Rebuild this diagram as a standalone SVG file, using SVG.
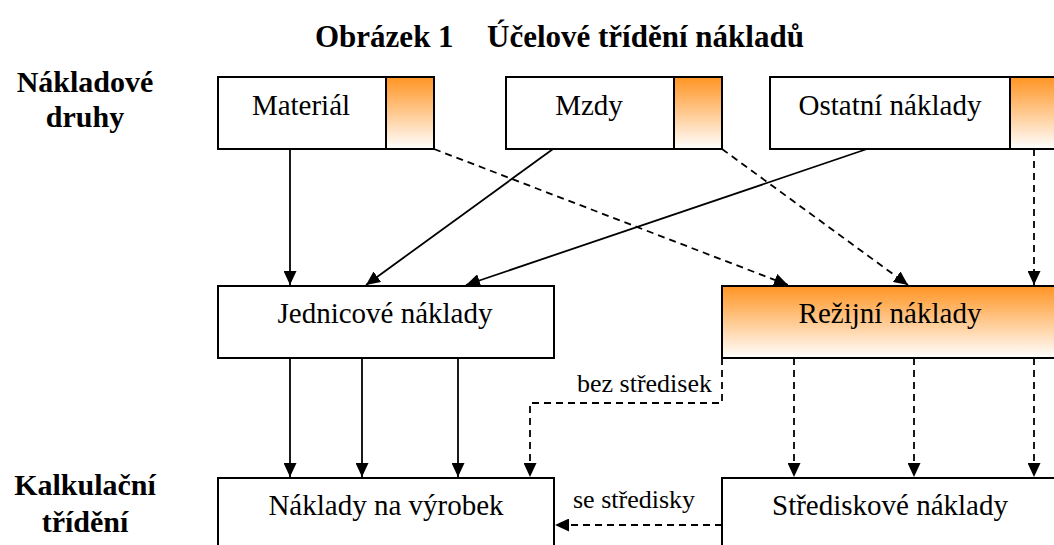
<svg xmlns="http://www.w3.org/2000/svg" width="1054" height="545" viewBox="0 0 1054 545" font-family="'Liberation Serif', 'DejaVu Serif', serif">
<defs>
<linearGradient id="og" x1="0" y1="0" x2="0" y2="1">
<stop offset="0" stop-color="#FF9422"/>
<stop offset="1" stop-color="#FFFFFF"/>
</linearGradient>
<marker id="ah" viewBox="0 0 14 13" refX="14" refY="6.5" markerWidth="14" markerHeight="13" markerUnits="userSpaceOnUse" orient="auto">
<path d="M0,0 L14,6.5 L0,13 Z" fill="#000"/>
</marker>
<style>
text{fill:#000}
.box{fill:#fff;stroke:#000;stroke-width:2}
.grad{fill:url(#og);stroke:#000;stroke-width:2}
.t{font-size:29px;text-anchor:middle}
.s{font-size:26px}
.h{font-size:30px;font-weight:bold;text-anchor:middle}
.ti{font-size:31px;font-weight:bold}
.c{fill:none;stroke:#000;stroke-width:1.8}
.d{stroke-dasharray:7,5}
</style>
</defs>
<rect width="1054" height="545" fill="#fff"/>
<g id="title"><text x="315" y="47" class="ti">Obrázek 1</text><text x="487" y="47" class="ti">Účelové třídění nákladů</text></g>
<g id="lbl-druhy"><text x="85" y="92" class="h">Nákladové</text><text x="85" y="127" class="h">druhy</text></g>
<g id="lbl-kalk"><text x="85" y="495" class="h">Kalkulační</text><text x="85" y="532" class="h">třídění</text></g>
<g id="material"><rect x="218" y="77" width="168" height="72" class="box"/><rect x="386" y="77" width="48" height="72" class="grad"/><text x="301" y="115" class="t">Materiál</text></g>
<g id="mzdy"><rect x="506" y="77" width="168" height="72" class="box"/><rect x="674" y="77" width="48" height="72" class="grad"/><text x="589" y="115" class="t">Mzdy</text></g>
<g id="ostatni"><rect x="770" y="77" width="240" height="72" class="box"/><rect x="1010" y="77" width="48" height="72" class="grad"/><text x="890" y="115" class="t">Ostatní náklady</text></g>
<g id="jednicove"><rect x="218" y="286" width="336" height="72" class="box"/><text x="385" y="323" class="t">Jednicové náklady</text></g>
<g id="rezijni"><rect x="722" y="286" width="340" height="72" class="grad"/><text x="890" y="323" class="t">Režijní náklady</text></g>
<g id="vyrobek"><rect x="218" y="478" width="336" height="80" class="box"/><text x="386" y="515" class="t">Náklady na výrobek</text></g>
<g id="strediskove"><rect x="722" y="478" width="340" height="80" class="box"/><text x="890" y="515" class="t">Střediskové náklady</text></g>
<g id="connectors">
<line x1="290" y1="149" x2="290" y2="285" class="c" marker-end="url(#ah)"/>
<line x1="553" y1="149" x2="366" y2="285" class="c" marker-end="url(#ah)"/>
<line x1="867" y1="149" x2="466" y2="285" class="c" marker-end="url(#ah)"/>
<line x1="434" y1="149" x2="788" y2="285" class="c d" marker-end="url(#ah)"/>
<line x1="722" y1="149" x2="908" y2="285" class="c d" marker-end="url(#ah)"/>
<line x1="1034" y1="149" x2="1034" y2="285" class="c d" marker-end="url(#ah)"/>
<line x1="290" y1="358" x2="290" y2="477" class="c" marker-end="url(#ah)"/>
<line x1="362" y1="358" x2="362" y2="477" class="c" marker-end="url(#ah)"/>
<line x1="458" y1="358" x2="458" y2="477" class="c" marker-end="url(#ah)"/>
<polyline points="722,358 722,403 530,403 530,477" class="c d" marker-end="url(#ah)"/>
<line x1="794" y1="358" x2="794" y2="477" class="c d" marker-end="url(#ah)"/>
<line x1="914" y1="358" x2="914" y2="477" class="c d" marker-end="url(#ah)"/>
<line x1="1034" y1="358" x2="1034" y2="477" class="c d" marker-end="url(#ah)"/>
<line x1="722" y1="525" x2="555" y2="525" class="c d" marker-end="url(#ah)"/>
<text x="712" y="392" class="s" text-anchor="end">bez středisek</text>
<text x="573" y="508" class="s">se středisky</text>
</g>
</svg>
